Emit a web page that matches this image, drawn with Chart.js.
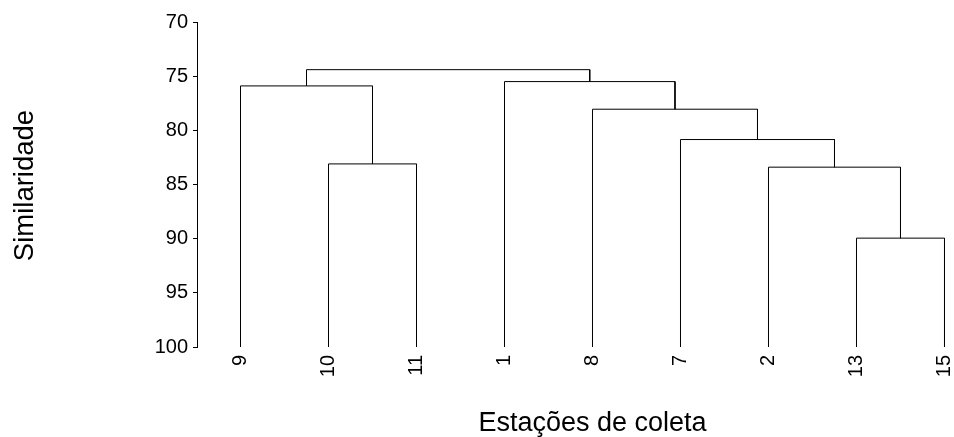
<!DOCTYPE html>
<html>
<head>
<meta charset="utf-8">
<script src="https://cdn.jsdelivr.net/npm/chart.js@4/dist/chart.umd.min.js"></script>
<style>
  html, body { margin: 0; padding: 0; background: #fff; }
  #wrap { width: 954px; height: 437px; }
</style>
</head>
<body>
<div id="wrap"><canvas id="c" width="954" height="437"></canvas></div>
<script>
// Leaf order along the horizontal axis
const leafLabels = ['9', '10', '11', '1', '8', '7', '2', '13', '15'];

// Agglomeration steps (negative = leaf position, positive = earlier step)
const mergeLeft   = [-8, -7, -2, -6, -5, -1, -4, 6];
const mergeRight  = [-9,  1, -3,  2,  4,  3,  5, 7];
const mergeHeight = [89.95, 83.4, 83.1, 80.85, 78.05, 75.9, 75.5, 74.4];

// Vertical axis
const yTicks = [70, 75, 80, 85, 90, 95, 100];
const yBase = 100;

const FONT = '"Liberation Sans", Arial, Helvetica, sans-serif';

// Build the dendrogram path: each step joins its two children with a bracket
function buildSegments() {
  const nodeX = [], nodeY = [];
  const pos = (ref) => ref < 0 ? { x: -ref, y: yBase } : { x: nodeX[ref - 1], y: nodeY[ref - 1] };
  const pts = [];
  for (let i = 0; i < mergeHeight.length; i++) {
    const a = pos(mergeLeft[i]);
    const b = pos(mergeRight[i]);
    const h = mergeHeight[i];
    pts.push({ x: a.x, y: a.y }, { x: a.x, y: h }, { x: b.x, y: h }, { x: b.x, y: b.y }, { x: NaN, y: null });
    nodeX.push((a.x + b.x) / 2);
    nodeY.push(h);
  }
  return pts;
}

const axisTitles = {
  id: 'axisTitles',
  afterDraw(chart) {
    const { ctx, scales: { x, y } } = chart;
    ctx.save();
    ctx.fillStyle = '#000';
    ctx.textAlign = 'center';
    ctx.textBaseline = 'alphabetic';
    ctx.font = '27px ' + FONT;
    ctx.fillText('Estações de coleta', x.getPixelForValue(5), 431);
    ctx.font = '27.5px ' + FONT;
    ctx.translate(33, (y.top + y.bottom) / 2 + 1);
    ctx.rotate(-Math.PI / 2);
    ctx.fillText('Similaridade', 0, 0);
    ctx.restore();
  }
};

new Chart(document.getElementById('c'), {
  type: 'line',
  data: {
    datasets: [{
      data: buildSegments(),
      borderColor: '#000',
      borderWidth: 1,
      pointRadius: 0,
      pointHoverRadius: 0,
      tension: 0,
      spanGaps: false,
      fill: false
    }]
  },
  options: {
    responsive: false,
    animation: false,
    events: [],
    layout: { padding: { top: 22, right: 2, left: 0, bottom: 0 } },
    plugins: { legend: { display: false }, tooltip: { enabled: false } },
    scales: {
      x: {
        type: 'linear',
        min: 0.50568,
        max: 9.08523,
        grid: { display: false, drawTicks: false },
        border: { display: false },
        afterBuildTicks(scale) {
          scale.ticks = leafLabels.map((_, i) => ({ value: i + 1 }));
        },
        afterFit(scale) {
          scale.height = 90;
          scale.paddingLeft = 0;
          scale.paddingRight = 0;
        },
        ticks: {
          autoSkip: false,
          minRotation: 90,
          maxRotation: 90,
          padding: 8,
          color: '#000',
          font: { family: FONT, size: 20 },
          callback: (v) => leafLabels[v - 1]
        }
      },
      y: {
        type: 'linear',
        reverse: true,
        min: 70,
        max: 100,
        afterBuildTicks(scale) {
          scale.ticks = yTicks.map(v => ({ value: v }));
        },
        afterFit(scale) {
          scale.width = 197;
          scale.paddingTop = 0;
          scale.paddingBottom = 0;
        },
        grid: { display: true, drawOnChartArea: false, drawTicks: true, tickLength: 4, color: '#000', lineWidth: 1 },
        border: { display: true, color: '#000', width: 1 },
        ticks: {
          padding: 5,
          color: '#000',
          font: { family: FONT, size: 20 }
        }
      }
    }
  },
  plugins: [axisTitles]
});
</script>
</body>
</html>
